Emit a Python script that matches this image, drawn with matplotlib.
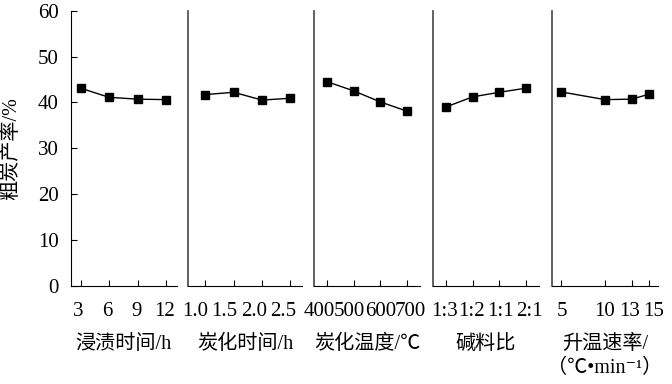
import matplotlib

matplotlib.use("Agg")
import matplotlib.pyplot as plt
from matplotlib.transforms import ScaledTranslation

plt.rcParams["font.family"] = ["Liberation Serif", "Noto Sans CJK SC", "DejaVu Serif"]

# data
soak_time = [3, 6, 9, 12]
soak_yield = [43.1, 41.1, 40.7, 40.6]
carb_time = [1.0, 1.5, 2.0, 2.5]
carb_time_yield = [41.7, 42.2, 40.5, 40.9]
carb_temp = [400, 500, 600, 700]
carb_temp_yield = [44.5, 42.5, 40.1, 38.1]
ratio_labels = ["1:3", "1:2", "1:1", "2:1"]
ratio_yield = [39.0, 41.2, 42.2, 43.1]
heat_rate = [5, 10, 13, 15]
heat_rate_yield = [42.3, 40.6, 40.7, 41.8]

W, H = 672, 384
# pixel extents of each panel (left, right), and small label nudges (px) as in the original typesetting
panels = [
    (71, 176.7, soak_time, soak_yield, [str(v) for v in soak_time], (2, 13.1), "浸渍时间/h",
     [-2, -2, -1, -2]),
    (188.3, 301.7, carb_time, carb_time_yield, ["1.0", "1.5", "2.0", "2.5"], (0.7, 2.7), "炭化时间/h",
     [-10, -9, -8, -7]),
    (314, 420, carb_temp, carb_temp_yield, [str(v) for v in carb_temp], (350, 750), "炭化温度/℃",
     [-8, -4, 0, 4]),
    (432.7, 539.3, list(range(4)), ratio_yield, ratio_labels, (-0.5, 3.5), "碱料比",
     [-1, -1, 1, 3]),
    (551.7, 658.3, heat_rate, heat_rate_yield, [str(v) for v in heat_rate], (4, 16), "升温速率/\n（℃•min⁻¹）",
     [1, 0, -2, 4]),
]

fig = plt.figure(figsize=(W / 100, H / 100), dpi=100)
top_px, bot_px = 10.7, 285.7
for i, (l, r, xs, ys, labels, xlim, xlabel, shifts) in enumerate(panels):
    ax = fig.add_axes([l / W, 1 - bot_px / H, (r - l) / W, (bot_px - top_px) / H])
    ax.plot(xs, ys, color="black", lw=1.0, marker="s", ms=6)
    ax.set_xlim(*xlim)
    ax.set_ylim(0, 60)
    ax.set_xticks(xs)
    ax.set_xticklabels(labels)
    ax.spines["top"].set_visible(False)
    ax.spines["right"].set_visible(False)
    ax.tick_params(axis="x", direction="in", length=4, width=0.8, labelsize=15, pad=12)
    for lab, dx in zip(ax.get_xticklabels(), shifts):
        lab.set_transform(lab.get_transform() + ScaledTranslation(dx / 100, 0, fig.dpi_scale_trans))
    ax.set_xlabel(xlabel, fontsize=14.5, labelpad=10, linespacing=1.3)
    if i == 0:
        ax.set_yticks(range(0, 61, 10))
        ax.tick_params(axis="y", direction="in", length=4, width=0.8, labelsize=15, pad=9)
        ax.set_ylabel("粗炭产率/%", fontsize=14.5, labelpad=12)
    else:
        ax.set_yticks([])
        ax.spines["left"].set_color("#555555")
        ax.spines["left"].set_linewidth(1.3)

fig.savefig("out.png", dpi=100)
